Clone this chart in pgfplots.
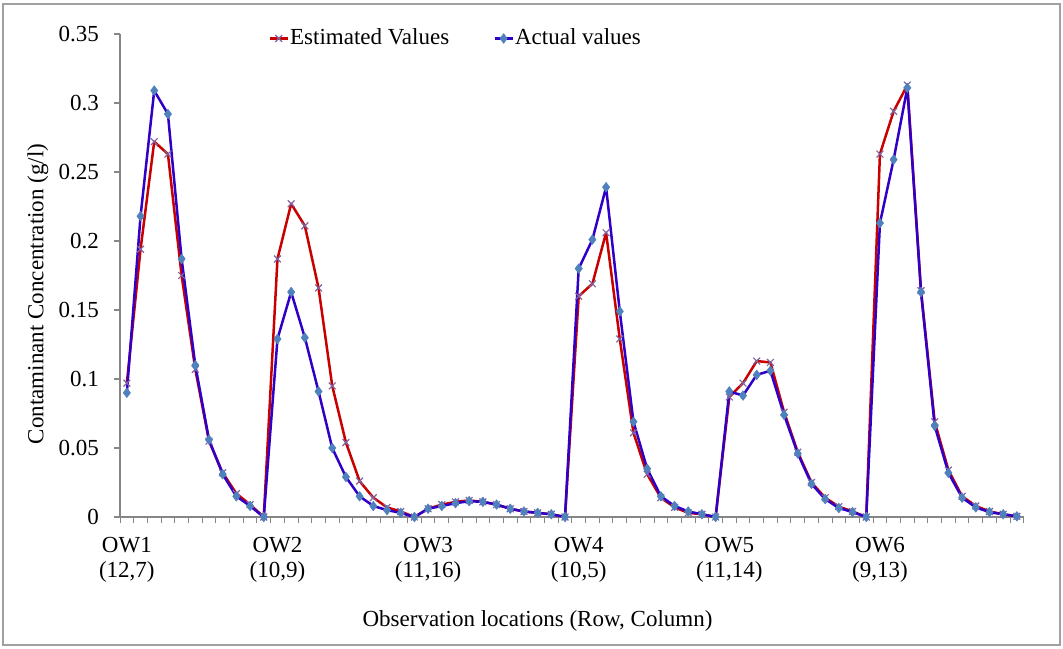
\documentclass[border=0pt]{standalone}
\usepackage{fontspec}
\setmainfont{Liberation Serif}
\usepackage{pgfplots}
\pgfplotsset{compat=1.18}
\usepackage{pgfplotstable}

\definecolor{estline}{RGB}{200,0,0}
\definecolor{estmark}{RGB}{128,100,162}
\definecolor{actline}{RGB}{48,0,200}
\definecolor{actmark}{RGB}{79,129,189}
\definecolor{axisgray}{RGB}{134,134,134}
\definecolor{framegray}{RGB}{160,160,160}

% Concentration at the 66 sampling positions (11 per observation well)
\pgfplotstableread{
idx est act
0 0.097 0.090
1 0.194 0.218
2 0.272 0.309
3 0.263 0.292
4 0.175 0.187
5 0.107 0.110
6 0.055 0.056
7 0.032 0.031
8 0.017 0.015
9 0.009 0.008
10 0 0
11 0.187 0.129
12 0.227 0.163
13 0.211 0.130
14 0.166 0.091
15 0.095 0.050
16 0.054 0.029
17 0.026 0.015
18 0.014 0.008
19 0.007 0.005
20 0.004 0.003
21 0 0
22 0.006 0.006
23 0.009 0.008
24 0.011 0.010
25 0.012 0.0115
26 0.011 0.011
27 0.009 0.009
28 0.006 0.006
29 0.004 0.004
30 0.003 0.003
31 0.002 0.002
32 0 0
33 0.160 0.180
34 0.169 0.201
35 0.206 0.239
36 0.129 0.149
37 0.061 0.069
38 0.031 0.035
39 0.014 0.015
40 0.007 0.008
41 0.003 0.004
42 0.002 0.002
43 0 0
44 0.087 0.091
45 0.097 0.088
46 0.113 0.103
47 0.112 0.106
48 0.076 0.074
49 0.047 0.046
50 0.025 0.024
51 0.014 0.013
52 0.0075 0.0065
53 0.004 0.0036
54 0 0
55 0.263 0.213
56 0.294 0.259
57 0.313 0.311
58 0.164 0.163
59 0.069 0.066
60 0.034 0.032
61 0.015 0.014
62 0.008 0.007
63 0.004 0.0035
64 0.002 0.002
65 0.0005 0.0005
}\conc

\begin{document}
\fontsize{11.5}{12.8}\selectfont
\begin{tikzpicture}[x=0.5pt,y=-0.5pt]
\path[use as bounding box] (0,0) rectangle (1063,648);
\draw[framegray, line width=0.6pt, fill=white] (3,4) rectangle (1060,645);
\begin{axis}[
  at={(60pt,-258.5pt)}, anchor=south west,
  scale only axis, width=451.85pt, height=241.5pt,
  xmin=-0.5, xmax=65.5, ymin=0, ymax=0.35,
  clip=false,
  axis x line*=bottom, axis y line*=left,
  axis line style={draw=axisgray, line width=0.6pt, -},
  tick align=outside,
  major tick length=3pt, minor tick length=3pt,
  xtick={0,11,22,33,44,55},
  xticklabels={{OW1\\(12,7)},{OW2\\(10,9)},{OW3\\(11,16)},{OW4\\(10,5)},{OW5\\(11,14)},{OW6\\(9,13)}},
  xticklabel style={align=center, yshift=-3pt},
  major x tick style={draw=none},
  minor xtick={-0.5,0.5,...,65.5},
  minor x tick style={draw=axisgray, line width=0.5pt},
  ytick={0,0.05,0.1,0.15,0.2,0.25,0.3,0.35},
  yticklabels={0,0.05,0.1,0.15,0.2,0.25,0.3,0.35},
  ytick style={draw=axisgray, line width=0.6pt},
  yticklabel style={xshift=-3.5pt},
  xlabel={Observation locations (Row, Column)},
  xlabel style={at={(axis description cs:0.462,-0.2271)}, anchor=base},
  ylabel={Contaminant Concentration (g/l)},
  ylabel style={at={(axis description cs:-0.0849,0.4617)}, anchor=base},
  legend columns=2,
  legend style={draw=none, fill=none, at={(axis description cs:0.1638,0.9907)}, anchor=west,
    inner xsep=0pt, inner ysep=0pt, nodes={inner sep=0.6pt},
    /tikz/every even column/.append style={column sep=21.5pt}},
  legend image code/.code={\draw[mark repeat=2,mark phase=2,#1] plot coordinates {(0pt,0pt) (4.5pt,0pt) (9pt,0pt)};},
]
\addplot[estline, line width=1.25pt, line join=round, mark=x, mark size=2.4pt,
  mark options={draw=estmark, line width=0.6pt, solid}] table[x=idx,y=est]{\conc};
\addlegendentry{Estimated Values}
\addplot[actline, line width=1.25pt, line join=round, mark=diamond*, mark size=2.4pt,
  mark options={draw=actmark, fill=actmark, line width=0.3pt, solid}] table[x=idx,y=act]{\conc};
\addlegendentry{Actual values}
\end{axis}
\end{tikzpicture}
\end{document}
